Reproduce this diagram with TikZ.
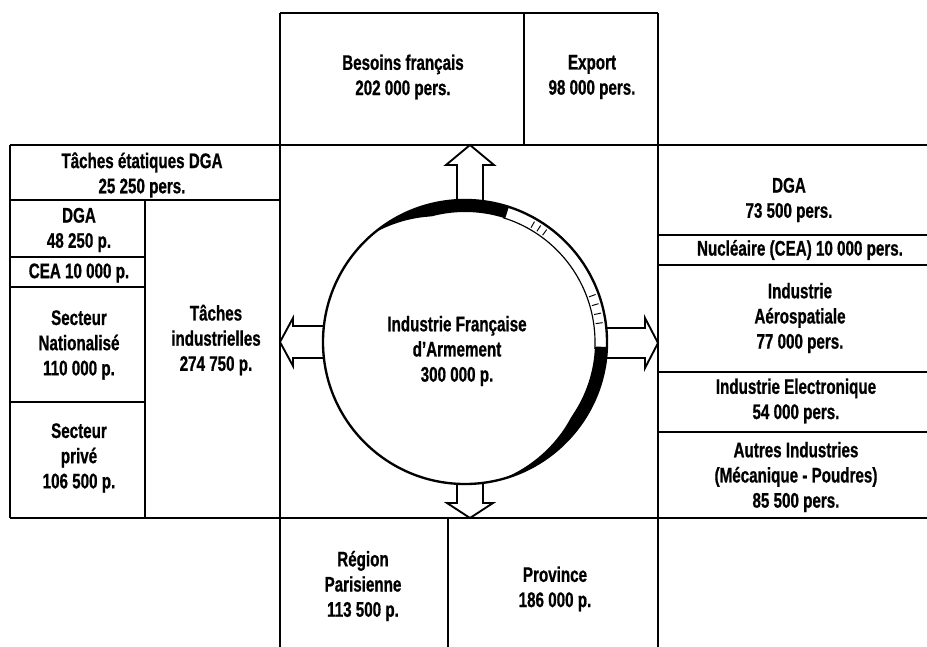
\documentclass[tikz,border=0pt]{standalone}
\usepackage{fontspec}
\setmainfont{Liberation Sans}[FakeStretch=0.72, BoldFeatures={FakeBold=0.8}]
\usetikzlibrary{calc}

\begin{document}
\begin{tikzpicture}[
  x=0.03cm, y=-0.03cm,
  font=\bfseries\fontsize{18}{21.5}\selectfont,
  rule/.style={line width=1.6pt},
  lbl/.style={align=center, inner sep=0pt},
  blockarrow/.style={line width=1.6pt, line join=miter},
  declare function={rimt(\t)=12*min(1,(130-\t)/25,(\t+75)/40);},
]
  \useasboundingbox (0,0) rectangle (927,647);

  % grid of boxes
  \draw[rule] (10,145) -- (927,145);
  \draw[rule] (10,518) -- (927,518);
  \draw[rule] (280,13) -- (658,13);
  \draw[rule] (280,13) -- (280,647);
  \draw[rule] (524,13) -- (524,145);
  \draw[rule] (658,13) -- (658,647);
  \draw[rule] (448,518) -- (448,647);

  % left column
  \draw[rule] (10,145) -- (10,518);
  \draw[rule] (10,200) -- (280,200);
  \draw[rule] (145,200) -- (145,518);
  \foreach \y in {257,287,402}
    \draw[rule] (10,\y) -- (145,\y);

  % right column
  \foreach \y in {235,265,372,432}
    \draw[rule] (658,\y) -- (927,\y);

  % central circle
  \node[circle, draw, fill=white, line width=2pt, minimum size=8.52cm,
        inner sep=0pt, outer sep=0pt] (ifa) at (465,342) {};

  % shaded rim
  \begin{scope}[shift={(ifa.center)}]
    \fill plot[domain=72:130, samples=40] (-\x:142)
      -- plot[domain=130:72, samples=40] (-\x:{142-rimt(\x)}) -- cycle;
    \fill plot[domain=-75:-2, samples=40] (-\x:142)
      -- plot[domain=-2:-75, samples=40] (-\x:{142-rimt(\x)}) -- cycle;
    \draw[line width=1pt] plot[domain=-3:73, samples=40] (-\x:130);
    \foreach \a in {54,57,60,8,12,16,20}
      \draw[line width=0.8pt] (-\a:132) -- (-\a:139);
  \end{scope}

  % hollow arrows
  \draw[blockarrow] (ifa.north) ++(-8,0) -- ++(0,-35) -- ++(-11,0) -- ++(24,-20)
    -- ++(24,20) -- ++(-11,0) -- ++(0,35);
  \draw[blockarrow] (ifa.east) ++(-1,-14) -- ++(39,0) -- ++(0,-10) -- ++(13,25)
    -- ++(-13,25) -- ++(0,-10) -- ++(-39,0);
  \draw[blockarrow] (ifa.west) ++(1,-16) -- ++(-31,0) -- ++(0,-8) -- ++(-13,24)
    -- ++(13,24) -- ++(0,-8) -- ++(31,0);
  \draw[blockarrow] (ifa.south) ++(-8,0) -- ++(0,19) -- ++(-10,0) -- ++(23,15)
    -- ++(23,-15) -- ++(-10,0) -- ++(0,-19);

  % labels
  \node[lbl] (besoins) at (403,77) {Besoins français\\202 000 pers.};
  \node[lbl] (export) at (592,77) {Export\\98 000 pers.};
  \node[lbl] (etat) at (142,175) {Tâches étatiques DGA\\25 250 pers.};
  \node[lbl] (dgal) at (79,230) {DGA\\48 250 p.};
  \node[lbl] (ceal) at (79,273) {CEA 10 000 p.};
  \node[lbl] (nat) at (79,345) {Secteur\\Nationalisé\\110 000 p.};
  \node[lbl] (prive) at (79,458) {Secteur\\privé\\106 500 p.};
  \node[lbl] (indus) at (216,340) {Tâches\\industrielles\\274 750 p.};
  \node[lbl] (ifatext) at (457,351) {Industrie Française\\d'Armement\\300 000 p.};
  \node[lbl] (dgar) at (789,200) {DGA\\73 500 pers.};
  \node[lbl] (cear) at (800,250) {Nucléaire (CEA) 10 000 pers.};
  \node[lbl] (aero) at (800,318) {Industrie\\Aérospatiale\\77 000 pers.};
  \node[lbl] (elec) at (796,401) {Industrie Electronique\\54 000 pers.};
  \node[lbl] (autres) at (796,477) {Autres Industries\\(Mécanique - Poudres)\\85 500 pers.};
  \node[lbl] (paris) at (363,586) {Région\\Parisienne\\113 500 p.};
  \node[lbl] (prov) at (555,589) {Province\\186 000 p.};
\end{tikzpicture}
\end{document}
